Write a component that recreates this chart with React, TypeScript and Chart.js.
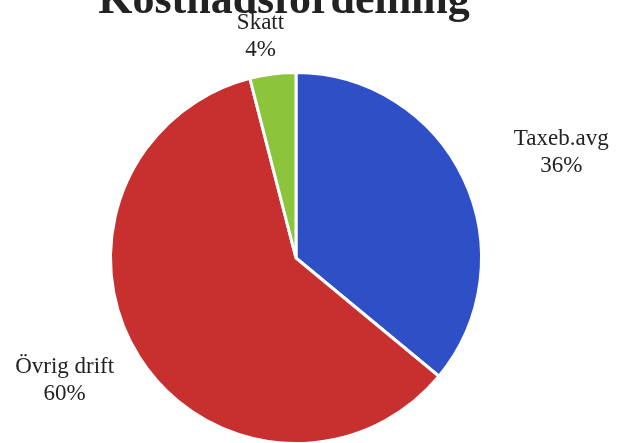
import React, { useEffect, useRef } from "react";
import { Chart, registerables } from "chart.js";
Chart.register(...registerables);

const titleText = "Kostnadsfördelning";
const categories = ["Taxeb.avg", "Övrig drift", "Skatt"];
const values = [36, 60, 4];
const percentLabels = ["36%", "60%", "4%"];

const colors = ["#2f4fc6", "#c8302f", "#8cc43c"];
const labelRadiusFactor = [1.54, 1.41, 1.21];
const labelAngleShiftDeg = [3.4, 4.6, -1.9];

const CANVAS_W = 619;
const CANVAS_H = 490;
const CANVAS_TOP = -37;

const labelPlugin = {
  id: "pieLabels",
  afterDraw(chart: any) {
    const ctx = chart.ctx;
    ctx.save();
    ctx.fillStyle = "#222222";
    ctx.textAlign = "center";
    ctx.textBaseline = "alphabetic";
    ctx.font = "bold 44px 'Liberation Serif', serif";
    ctx.fillText(titleText, 284, 13 - CANVAS_TOP);

    const meta = chart.getDatasetMeta(0);
    ctx.font = "23px 'Liberation Serif', serif";
    ctx.textBaseline = "middle";
    meta.data.forEach((arc: any, i: number) => {
      const p = arc.getProps(["x", "y", "startAngle", "endAngle", "outerRadius"], true);
      const mid = (p.startAngle + p.endAngle) / 2 + (labelAngleShiftDeg[i] * Math.PI) / 180;
      const d = p.outerRadius * labelRadiusFactor[i];
      const cx = p.x + Math.cos(mid) * d;
      const cy = p.y + Math.sin(mid) * d;
      ctx.fillText(categories[i], cx, cy - 13);
      ctx.fillText(percentLabels[i], cx, cy + 14);
    });
    ctx.restore();
  },
};

export default function App() {
  const ref = useRef<HTMLCanvasElement | null>(null);
  useEffect(() => {
    document.body.style.margin = "0";
    const canvas = ref.current;
    if (!canvas) return;
    const chart = new Chart(canvas, {
      type: "pie",
      data: {
        labels: categories,
        datasets: [
          {
            data: values,
            backgroundColor: colors,
            borderColor: "#ffffff",
            borderWidth: 3,
            hoverOffset: 0,
          },
        ],
      },
      options: {
        responsive: false,
        maintainAspectRatio: false,
        animation: false,
        devicePixelRatio: 1,
        layout: { padding: { left: 109, right: 136, top: 108, bottom: 8 } },
        plugins: {
          legend: { display: false },
          tooltip: { enabled: false },
          title: { display: false },
        },
      },
      plugins: [labelPlugin],
    });
    return () => chart.destroy();
  }, []);
  return (
    <div
      style={{
        position: "relative",
        width: CANVAS_W,
        height: 443,
        overflow: "hidden",
        background: "#ffffff",
      }}
    >
      <canvas
        ref={ref}
        width={CANVAS_W}
        height={CANVAS_H}
        style={{ position: "absolute", left: 0, top: CANVAS_TOP, width: CANVAS_W, height: CANVAS_H }}
      />
    </div>
  );
}
